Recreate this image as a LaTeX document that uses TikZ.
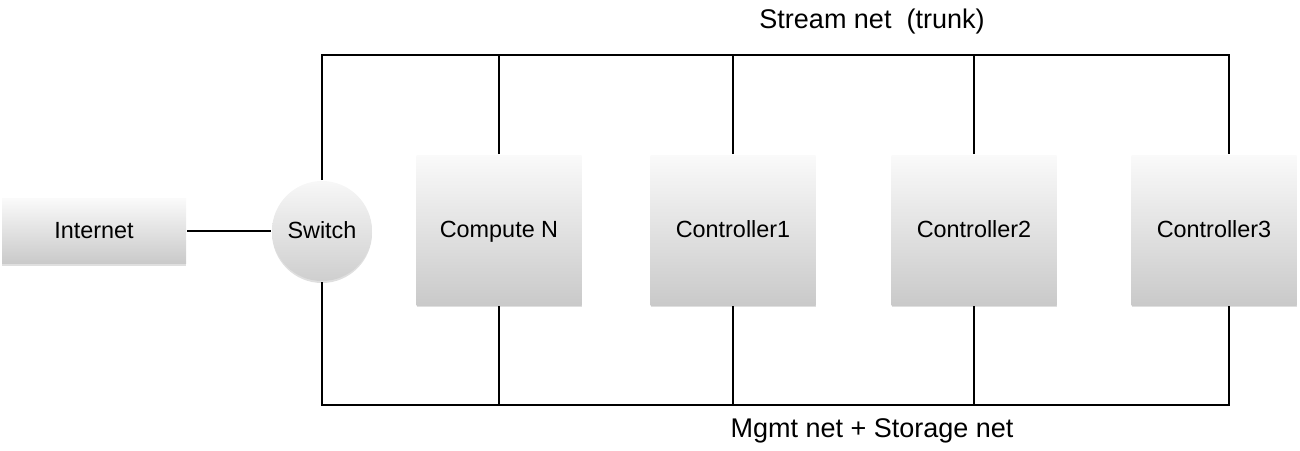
\documentclass[tikz,border=0pt]{standalone}
\usepackage{fontspec}
\setmainfont{Liberation Sans}
\usetikzlibrary{shadows}

\begin{document}
\begin{tikzpicture}[x=0.5pt,y=-0.5pt,line width=1pt,
  label font/.style={font=\fontsize{11.7}{14}\selectfont,text height=0.72em,text depth=0pt},
  bus label/.style={font=\fontsize{13.5}{16}\selectfont,text height=0.72em,text depth=0pt},
  host/.style={label font,draw=none,top color=gray!4,bottom color=gray!42,
    minimum width=82.5pt,minimum height=75pt,inner sep=0pt,
    drop shadow={opacity=0.25,shadow xshift=0pt,shadow yshift=-1pt}},
  hub/.style={label font,circle,draw=none,top color=gray!6,bottom color=gray!38,
    minimum size=50pt,inner sep=0pt,
    drop shadow={opacity=0.25,shadow xshift=0pt,shadow yshift=-1pt}}]
\useasboundingbox (0,0) rectangle (1300,450);
% Drawing hosts
\node[host,minimum width=92pt,minimum height=32.5pt] (internet) at (94,231) {Internet};
\node[hub] (switch) at (322,231) {Switch};
\node[host] (compute) at (499,230) {Compute N};
\node[host] (ctrl1) at (733,230) {Controller1};
\node[host] (ctrl2) at (974,230) {Controller2};
\node[host] (ctrl3) at (1214,230) {Controller3};
% Bus corners
\coordinate (tl) at (322,55);
\coordinate (tr) at (1229,55);
\coordinate (bl) at (322,405);
\coordinate (br) at (1229,405);
% Uplink
\draw (internet) -- (switch);
% Stream net (top bus)
\draw (switch) -- (tl) -- (tr) -- (tr |- ctrl3.north);
\draw (compute.north) -- (compute.north |- tl);
\draw (ctrl1.north) -- (ctrl1.north |- tl);
\draw (ctrl2.north) -- (ctrl2.north |- tl);
% Mgmt + storage net (bottom bus)
\draw (switch) -- (bl) -- (br) -- (br |- ctrl3.south);
\draw (compute.south) -- (compute.south |- bl);
\draw (ctrl1.south) -- (ctrl1.south |- bl);
\draw (ctrl2.south) -- (ctrl2.south |- bl);
% Bus labels
\node[bus label] (stream) at (872,21) {Stream net~~(trunk)};
\node[bus label] (mgmt) at (872,430) {Mgmt net + Storage net};
\end{tikzpicture}
\end{document}
